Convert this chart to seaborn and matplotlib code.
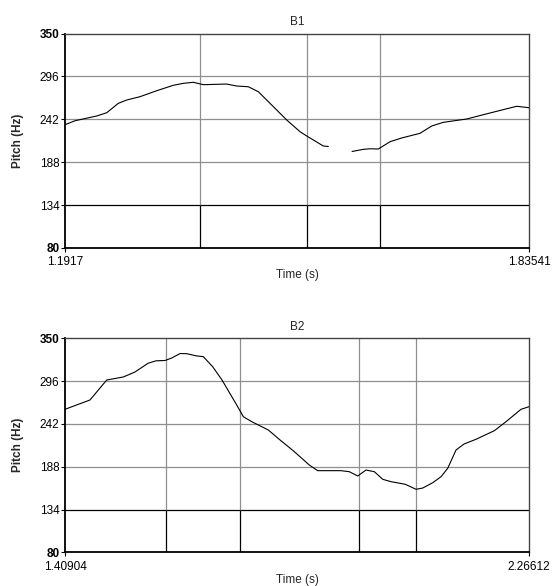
import numpy as np
import pandas as pd
import matplotlib
matplotlib.use("Agg")
import matplotlib.pyplot as plt
import seaborn as sns

sns.set_style("white")
plt.rcParams['font.family'] = ['Liberation Sans', 'DejaVu Sans']

# B1 pitch track (two voiced stretches)
b1_time_a = [1.1924, 1.2056, 1.2357, 1.2496, 1.2656, 1.2773, 1.2958, 1.3189, 1.3419,
             1.3558, 1.3697, 1.3836, 1.4160, 1.4299, 1.4460, 1.4599, 1.4761, 1.4993,
             1.5177, 1.5270, 1.5500, 1.5570]
b1_pitch_a = [235.5, 240.2, 246.2, 250.3, 262.1, 266.3, 270.5, 278.0, 284.8,
              287.3, 288.6, 285.6, 286.4, 283.9, 283.0, 276.7, 262.1, 241.1,
              226.4, 221.0, 208.4, 207.8]
b1_time_b = [1.5899, 1.6055, 1.6148, 1.6263, 1.6426, 1.6588, 1.6842, 1.7004, 1.7165,
             1.7490, 1.7720, 1.8045, 1.8184, 1.8354]
b1_pitch_b = [201.5, 204.2, 204.9, 204.6, 213.8, 218.5, 224.4, 233.6, 238.2,
              242.4, 247.8, 255.3, 258.4, 256.6]
b1_bounds = [1.3790, 1.5270, 1.6283]
b1_range = [1.1917, 1.83541]
b1_labels = ["1.1917", "1.83541"]

# B2 pitch track
b2_time = [1.4090, 1.4552, 1.4861, 1.5167, 1.5383, 1.5624, 1.5771, 1.5938, 1.6061,
           1.6215, 1.6338, 1.6510, 1.6645, 1.6815, 1.6990, 1.7262, 1.7384, 1.7539,
           1.7724, 1.7846, 1.8062, 1.8302, 1.8603, 1.8758, 1.9188, 1.9342, 1.9497,
           1.9650, 1.9804, 1.9959, 2.0112, 2.0376, 2.0574, 2.0698, 2.0882, 2.1036,
           2.1159, 2.1313, 2.1460, 2.1682, 2.2020, 2.2236, 2.2513, 2.2661]
b2_pitch = [260.4, 272.2, 297.4, 301.2, 307.5, 318.5, 321.6, 322.0, 325.1,
            330.8, 330.6, 327.9, 326.8, 314.4, 297.4, 265.8, 251.1, 244.8,
            238.5, 234.3, 221.7, 208.4, 190.1, 183.0, 183.0, 181.7, 176.3,
            183.8, 181.7, 172.1, 169.1, 165.8, 159.5, 161.1, 167.8, 175.4,
            186.0, 209.1, 216.6, 222.6, 233.4, 244.8, 260.4, 263.7]
b2_bounds = [1.5956, 1.7328, 1.9515, 2.0579]
b2_range = [1.40904, 2.26612]
b2_labels = ["1.40904", "2.26612"]

y_ticks = [80, 134, 188, 242, 296, 350]
tier_line = 134

df1 = pd.DataFrame({
    "time": b1_time_a + b1_time_b,
    "pitch": b1_pitch_a + b1_pitch_b,
    "seg": [0] * len(b1_time_a) + [1] * len(b1_time_b),
})
df2 = pd.DataFrame({"time": b2_time, "pitch": b2_pitch, "seg": 0})

fig = plt.figure(figsize=(5.52, 5.86), dpi=100)
ax1 = fig.add_axes([0.1178, 0.5768, 0.8406, 0.366])
ax2 = fig.add_axes([0.1178, 0.0575, 0.8406, 0.3652])

grid_c = "#8f8f8f"
fs = 8.5


def draw(ax, df, bounds, xr, xl, title):
    for y in y_ticks[1:-1]:
        if y == tier_line:
            continue
        ax.axhline(y, color=grid_c, lw=0.9, zorder=1)
    ax.axhline(tier_line, color="black", lw=0.9, zorder=1)
    ax.vlines(bounds, tier_line, 350, color=grid_c, lw=0.9, zorder=1)
    ax.vlines(bounds, 80, tier_line, color="black", lw=0.9, zorder=1)
    sns.lineplot(data=df, x="time", y="pitch", units="seg", estimator=None,
                 color="black", lw=0.8, ax=ax, zorder=3)
    ax.set_xlim(xr)
    ax.set_ylim(80, 350)
    ax.set_xticks(xr)
    ax.set_xticklabels(xl, fontsize=fs)
    ax.set_yticks(y_ticks)
    ax.set_yticklabels([str(v) for v in y_ticks], fontsize=fs)
    for lab in ax.get_yticklabels():
        if lab.get_text() in ("80", "350"):
            lab.set_fontweight("bold")
    ax.tick_params(axis="both", length=3, width=0.8, colors="black",
                   left=True, bottom=True)
    ax.tick_params(axis="y", pad=1)
    ax.tick_params(axis="x", pad=3)
    ax.set_title(title, fontsize=fs, pad=6)
    ax.set_ylabel("Pitch (Hz)", fontsize=fs, fontweight="bold")
    ax.set_xlabel("Time (s)", fontsize=fs)
    ax.yaxis.set_label_coords(-0.088, 0.5)
    ax.xaxis.set_label_coords(0.5, -0.1)
    for s in ("left", "bottom"):
        ax.spines[s].set_color("black")
        ax.spines[s].set_linewidth(1.3)
    for s in ("top", "right"):
        ax.spines[s].set_color("#444444")
        ax.spines[s].set_linewidth(1.0)
    ax.spines["top"].set_visible(True)
    ax.spines["right"].set_visible(True)


draw(ax1, df1, b1_bounds, b1_range, b1_labels, "B1")
draw(ax2, df2, b2_bounds, b2_range, b2_labels, "B2")

fig.savefig("out.png", dpi=100)
